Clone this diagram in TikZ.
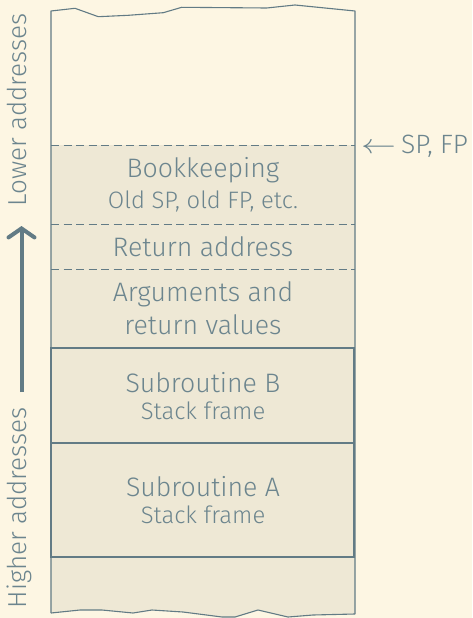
\documentclass[tikz,border=0pt]{standalone}
\usepackage{fontspec}
\setmainfont{Fira Sans Light}
\usepackage{graphicx}
\usetikzlibrary{arrows.meta}
\definecolor{paper}{HTML}{FDF6E3}
\definecolor{cell}{HTML}{EEE8D5}
\definecolor{ink}{HTML}{627B85}
\definecolor{label}{HTML}{6C858E}
\tikzset{
  edge/.style={draw=ink, line width=1.1pt, line join=round},
  frame/.style={draw=ink, line width=1.8pt},
  divider/.style={draw=ink, line width=0.9pt, dash pattern=on 8pt off 4.5pt},
  bigtext/.style={text=label, anchor=base, inner sep=0pt, font=\fontsize{26.7}{31}\selectfont},
  smalltext/.style={text=label, anchor=base, inner sep=0pt, font=\fontsize{23.8}{28}\selectfont},
  pointertext/.style={text=label, anchor=base west, inner sep=0pt, font=\fontsize{26.5}{31}\selectfont},
  sidetext/.style={text=label, anchor=base, inner sep=0pt, rotate=90, font=\fontsize{26}{30}\selectfont},
}
\begin{document}
\begin{tikzpicture}[x=1pt, y=-1pt]
  \fill[paper] (0,0) rectangle (472,618);
  \useasboundingbox (0,0) rectangle (472,618);

  % filled part of the stack, from the current top down to the torn bottom edge
  \fill[cell] (51,145) -- (355,145) -- (355,614) -- (313,615) -- (288,617) -- (258,610)
    -- (235,617) -- (222,617) -- (183,612) -- (152,610) -- (133,613) -- (102,610)
    -- (80,610) -- (51,613) -- cycle;

  % stack column with torn top and bottom edges
  \draw[edge] (51,613) -- (51,11) -- (75,8.3) -- (98.3,16.7) -- (128.3,15.3) -- (163.3,12.7)
    -- (181.7,7.3) -- (266.7,8) -- (295,5) -- (355,11) -- (355,614);
  \draw[edge] (51,613) -- (80,610) -- (102,610) -- (133,613) -- (152,610) -- (183,612)
    -- (222,617) -- (235,617) -- (258,610) -- (288,617) -- (313,615) -- (355,614);

  % dashed separators within the current frame
  \draw[divider] (51,145) -- (355,145);
  \draw[divider] (51,224.5) -- (355,224.5);
  \draw[divider] (51,269) -- (355,269);

  % stack frames of the calling subroutines
  \draw[frame] (51,348) rectangle (354,443);
  \draw[frame] (51,443) rectangle (354,557);

  % cell labels
  \node[bigtext]   (book)  at (203,177)   {Bookkeeping};
  \node[smalltext] (bookd) at (203,208.5) {Old SP, old FP, etc.};
  \node[bigtext]   (ret)   at (203,256.5) {Return address};
  \node[bigtext]   (args)  at (203,301.5) {Arguments and};
  \node[bigtext]   (argsb) at (203,334)   {return values};
  \node[bigtext]   (subb)  at (203,392.5) {Subroutine B};
  \node[smalltext] (subbd) at (203,419)   {Stack frame};
  \node[bigtext]   (suba)  at (203,496.5) {Subroutine A};
  \node[smalltext] (subad) at (203,523)   {Stack frame};

  % pointer label
  \node[pointertext] (sp) at (361,153)
    {\scalebox{1.4}[1.1]{$\leftarrow$}\hspace{5pt}SP, FP};

  % address direction
  \node[sidetext] (lower)  at (27,110) {Lower addresses};
  \node[sidetext] (higher) at (27,508) {Higher addresses};
  \coordinate (arrowfoot) at (21.5,392);
  \coordinate (arrowtip)  at (21.5,226);
  \draw[draw=ink, line width=4pt, -{Straight Barb[length=9pt, width=26pt, line cap=round]}]
    (arrowfoot) -- (arrowtip);
\end{tikzpicture}
\end{document}
